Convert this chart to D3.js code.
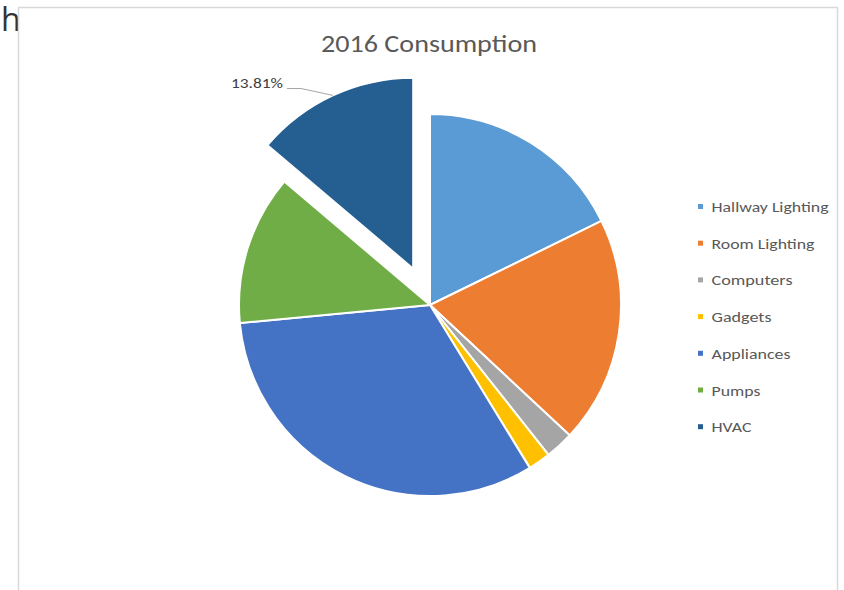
<!DOCTYPE html>
<html>
<head>
<meta charset="utf-8">
<script src="https://cdn.jsdelivr.net/npm/d3@7"></script>
<style>
  html, body { margin: 0; padding: 0; background: #fff; }
  svg { display: block; }
</style>
</head>
<body>
<svg id="chart" width="844" height="590"></svg>
<script>
// data (percent of 2016 consumption)
var categories = ["Hallway Lighting", "Room Lighting", "Computers", "Gadgets", "Appliances", "Pumps", "HVAC"];
var values = [17.75, 19.2, 2.4, 1.9, 32.24, 12.7, 13.81];
var colors = ["#5B9BD5", "#ED7D31", "#A5A5A5", "#FFC000", "#4472C4", "#70AD47", "#255E91"];
var explodedKey = "HVAC";
var title = "2016 Consumption";

var font = "Carlito, Calibri, 'Open Sans', sans-serif";
var svg = d3.select("#chart");

// stray letter from the page behind the chart
svg.append("text")
  .attr("x", 1).attr("y", 31)
  .attr("font-family", "'Open Sans', sans-serif")
  .attr("font-size", 32)
  .attr("fill", "#333")
  .text("h");

// chart area border
svg.append("rect")
  .attr("x", 18.5).attr("y", 7.5)
  .attr("width", 819).attr("height", 600)
  .attr("fill", "none")
  .attr("stroke", "#d9d9d9")
  .attr("stroke-width", 1.5);

svg.append("text")
  .attr("x", 429).attr("y", 52)
  .attr("text-anchor", "middle")
  .attr("font-family", font)
  .attr("font-size", 25)
  .attr("fill", "#595959")
  .attr("textLength", 216)
  .attr("lengthAdjust", "spacingAndGlyphs")
  .text(title);

var cx = 430, cy = 305, r = 191, explode = 40;
var color = d3.scaleOrdinal().domain(categories).range(colors);

var pie = d3.pie().sort(null).value(function(d) { return d.value; });
var arc = d3.arc().innerRadius(0).outerRadius(r);
var data = categories.map(function(c, i) { return {key: c, value: values[i]}; });
var arcs = pie(data);

var g = svg.append("g").attr("transform", "translate(" + cx + "," + cy + ")");

function offset(d) {
  if (d.data.key != explodedKey) return [0, 0];
  var a = (d.startAngle + d.endAngle) / 2;
  return [Math.sin(a) * explode, -Math.cos(a) * explode];
}

g.selectAll("path")
  .data(arcs)
  .enter().append("path")
  .attr("d", arc)
  .attr("transform", function(d) { var o = offset(d); return "translate(" + o[0] + "," + o[1] + ")"; })
  .attr("fill", function(d) { return color(d.data.key); })
  .attr("stroke", "#fff")
  .attr("stroke-width", 2)
  .attr("stroke-linejoin", "round");

// data label for the exploded slice, with leader line
var hv = arcs.filter(function(d) { return d.data.key == explodedKey; })[0];
var o = offset(hv);
var la = (hv.startAngle + hv.endAngle) / 2;
var px = o[0] + Math.sin(la) * r, py = o[1] - Math.cos(la) * r;
var lx = 287 - cx, ly = 88.5 - cy;
g.append("polyline")
  .attr("points", [[lx, ly], [lx + 14, ly], [px, py]].map(function(p) { return p.join(","); }).join(" "))
  .attr("fill", "none")
  .attr("stroke", "#a6a6a6")
  .attr("stroke-width", 1);
g.append("text")
  .attr("x", lx - 4).attr("y", ly - 1)
  .attr("text-anchor", "end")
  .attr("font-family", font)
  .attr("font-size", 14)
  .attr("fill", "#404040")
  .attr("textLength", 52)
  .attr("lengthAdjust", "spacingAndGlyphs")
  .text(d3.format(".2f")(hv.data.value) + "%");

// legend (text widths measured on the picture)
var legendWidths = [117, 103, 81, 60, 79, 49, 40];
var legend = svg.append("g")
  .attr("font-family", font)
  .attr("font-size", 15)
  .selectAll("g")
  .data(categories)
  .enter().append("g")
  .attr("transform", function(d, i) { return "translate(698," + (206.5 + i * 36.7) + ")"; });

legend.append("rect")
  .attr("x", 0).attr("y", -2.5)
  .attr("width", 5).attr("height", 5)
  .attr("fill", function(d) { return color(d); });

legend.append("text")
  .attr("x", 13.5)
  .attr("y", 5.5)
  .attr("fill", "#595959")
  .attr("textLength", function(d, i) { return legendWidths[i]; })
  .attr("lengthAdjust", "spacingAndGlyphs")
  .text(function(d) { return d; });
</script>
</body>
</html>
